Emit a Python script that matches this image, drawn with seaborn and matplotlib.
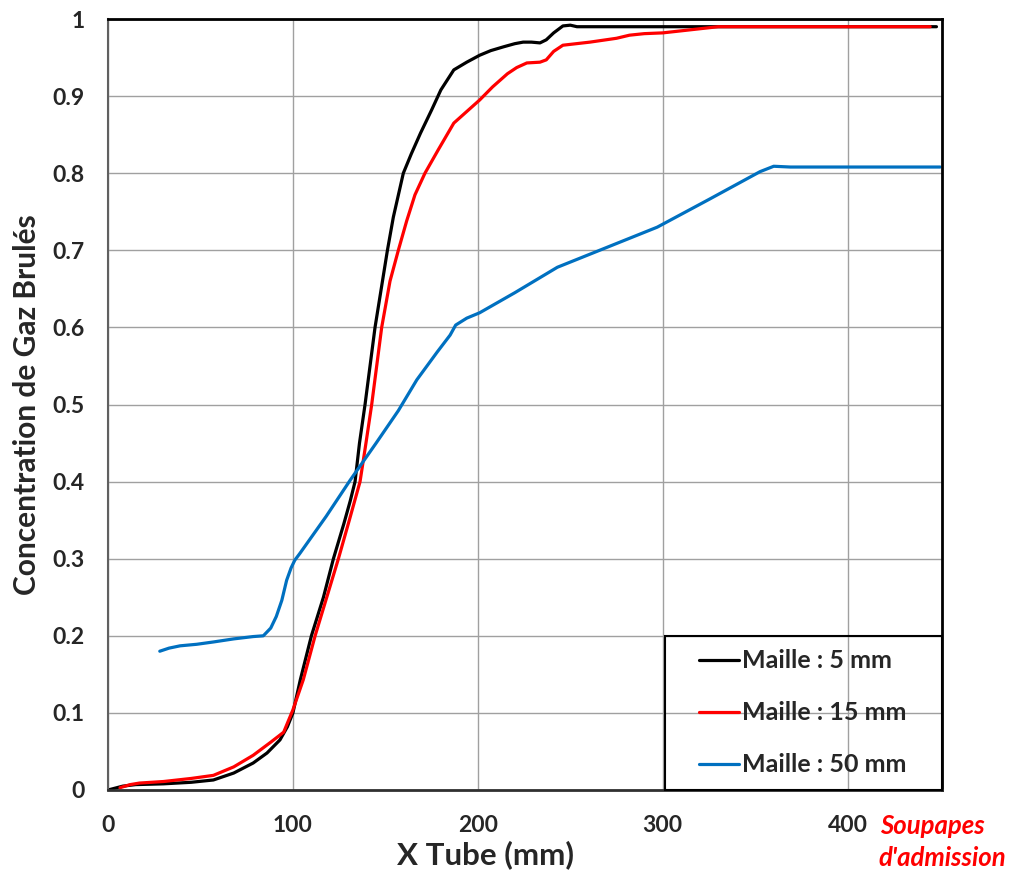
import matplotlib
matplotlib.use('Agg')
import matplotlib.pyplot as plt
import seaborn as sns
from matplotlib.legend_handler import HandlerLine2D

# Maille 5 mm
x_5mm = [0, 8, 15, 30, 45, 57, 68, 78.5, 86, 93, 97, 100, 104, 110, 116.5, 121.9, 127.5, 131, 133.6, 136, 139,
         144.4, 151.1, 154.3, 159.7, 164, 169, 175, 180, 187, 194, 201, 207, 214, 220, 224.5, 229, 233.6, 237,
         241, 246, 250, 253.6, 300, 350, 400, 448]
y_5mm = [0, 0.005, 0.007, 0.008, 0.01, 0.013, 0.022, 0.035, 0.048, 0.065, 0.082, 0.1, 0.143, 0.2, 0.25, 0.3,
         0.345, 0.375, 0.4, 0.45, 0.5, 0.6, 0.7, 0.743, 0.8, 0.825, 0.852, 0.882, 0.908, 0.934, 0.944, 0.953,
         0.959, 0.964, 0.968, 0.970, 0.970, 0.969, 0.973, 0.982, 0.991, 0.992, 0.990, 0.990, 0.990, 0.990, 0.990]

# Maille 15 mm
x_15mm = [6.5, 12, 17, 30, 45, 57, 68, 78.5, 88, 95, 100, 105.6, 112, 118.3, 124.6, 130.5, 136.3, 139.5, 142.6,
          148, 152.5, 157, 161.5, 166, 171.4, 178.5, 187, 194, 201, 208, 216, 221, 226.5, 233.6, 237, 241, 246,
          260.6, 275, 282, 290, 300, 315, 330, 360, 400, 444.6]
y_15mm = [0.003, 0.007, 0.009, 0.011, 0.015, 0.019, 0.03, 0.045, 0.062, 0.075, 0.104, 0.143, 0.2, 0.25, 0.3,
          0.35, 0.4, 0.45, 0.5, 0.6, 0.66, 0.7, 0.738, 0.772, 0.8, 0.83, 0.865, 0.88, 0.895, 0.912, 0.929, 0.937,
          0.943, 0.944, 0.947, 0.958, 0.966, 0.970, 0.975, 0.979, 0.981, 0.982, 0.986, 0.99, 0.99, 0.99, 0.99]

# Maille 50 mm
x_50mm = [28, 33, 39, 48, 57, 68, 78.5, 84, 88, 91, 94, 96.6, 99, 101, 103.8, 118, 131, 145, 157, 167, 178,
          185, 188, 194, 201, 220, 243, 270, 297, 325, 352.6, 360, 369, 400, 450]
y_50mm = [0.180, 0.184, 0.187, 0.189, 0.192, 0.196, 0.199, 0.200, 0.21, 0.225, 0.246, 0.272, 0.288, 0.298, 0.307,
          0.355, 0.402, 0.45, 0.492, 0.532, 0.568, 0.590, 0.603, 0.612, 0.619, 0.645, 0.678, 0.704, 0.730, 0.766,
          0.802, 0.809, 0.808, 0.808, 0.808]

x_ticks = [0, 100, 200, 300, 400]
y_ticks = [0, 0.1, 0.2, 0.3, 0.4, 0.5, 0.6, 0.7, 0.8, 0.9, 1]
y_tick_labels = ['0', '0.1', '0.2', '0.3', '0.4', '0.5', '0.6', '0.7', '0.8', '0.9', '1']

sns.set_style('white')
plt.rcParams['font.family'] = ['Lato', 'DejaVu Sans']
plt.rcParams['font.weight'] = 'bold'

fig = plt.figure(figsize=(10.19, 8.75), dpi=100)
ax = fig.add_axes([108 / 1019, 85 / 875, 834 / 1019, 771 / 875])

sns.lineplot(x=x_5mm, y=y_5mm, color='black', linewidth=2.3, sort=False, label='Maille : 5 mm', ax=ax)
sns.lineplot(x=x_15mm, y=y_15mm, color='#ff0000', linewidth=2.3, sort=False, label='Maille : 15 mm', ax=ax)
sns.lineplot(x=x_50mm, y=y_50mm, color='#0070c0', linewidth=2.3, sort=False, label='Maille : 50 mm', ax=ax)

ax.set_xlim(0, 451)
ax.set_ylim(0, 1)
ax.set_xticks(x_ticks)
ax.set_yticks(y_ticks)
ax.set_yticklabels(y_tick_labels)
ax.grid(True, color='#a0a0a0', linewidth=1.0)
ax.set_axisbelow(True)

for s in ['top', 'right']:
    ax.spines[s].set_color('black')
    ax.spines[s].set_linewidth(2)
ax.spines['left'].set_color('#606060')
ax.spines['left'].set_linewidth(1.5)
ax.spines['bottom'].set_color('#303030')
ax.spines['bottom'].set_linewidth(2)

ax.tick_params(axis='x', direction='out', length=6, width=1, color='#a0a0a0', labelsize=16.5, pad=12)
ax.tick_params(axis='y', length=0, labelsize=16.5, pad=17)
for lbl in ax.get_xticklabels() + ax.get_yticklabels():
    lbl.set_fontweight('bold')

ax.set_xlabel('X Tube (mm)', fontsize=22.5, fontweight='bold', labelpad=3)
ax.xaxis.label.set_x(0.453)
ax.set_ylabel('Concentration de Gaz Brulés', fontsize=21.5, fontweight='bold', labelpad=8)

# legend box spanning the lower-right corner, line drawn in the right part of the handle
leg = ax.legend(loc='lower left', bbox_to_anchor=((665 - 108) / 834, 0, (942 - 665) / 834, 0.2),
                mode='expand', frameon=True, fancybox=False, facecolor='none', framealpha=1,
                edgecolor='black', fontsize=18, borderpad=0.55, labelspacing=1.16,
                handlelength=2.4, handletextpad=0.12, borderaxespad=0,
                handler_map={matplotlib.lines.Line2D: HandlerLine2D(xpad=0.8)})
leg.get_frame().set_linewidth(1.5)
for t in leg.get_texts():
    t.set_fontweight('bold')

fig.text(880 / 1019, 1 - 826 / 875, 'Soupapes', color='#ff0000', fontsize=18.5, fontweight='bold',
         fontstyle='italic', ha='left', va='center')
fig.text(878 / 1019, 1 - 858 / 875, "d'admission", color='#ff0000', fontsize=18.5, fontweight='bold',
         fontstyle='italic', ha='left', va='center')

plt.savefig('out.png', dpi=100)
